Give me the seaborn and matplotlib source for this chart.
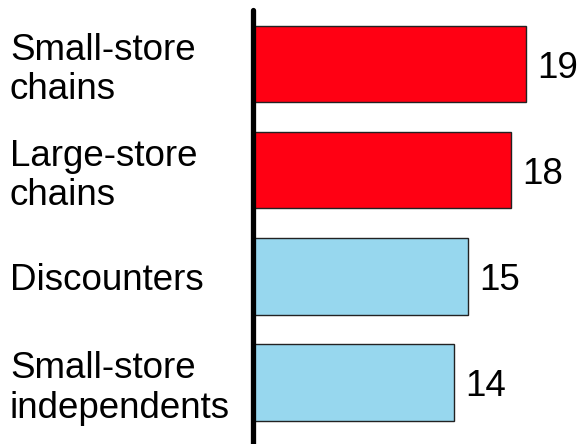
import matplotlib
matplotlib.use("Agg")
import matplotlib.pyplot as plt
import seaborn as sns
import pandas as pd

categories = ["Small-store\nchains", "Large-store\nchains", "Discounters", "Small-store\nindependents"]
values = [19, 18, 15, 14]
bar_colors = ["#FF0013", "#FF0013", "#97D7EE", "#97D7EE"]

sns.set_theme(style="white")
plt.rcParams["font.family"] = ["Liberation Sans", "DejaVu Sans"]

df = pd.DataFrame({"category": categories, "value": values})

W, H, DPI = 584, 444, 100
fig = plt.figure(figsize=(W / DPI, H / DPI), dpi=DPI)
ax = fig.add_axes([253 / W, 0, 1 - 253 / W, 434 / H])

sns.barplot(data=df, x="value", y="category", hue="category", palette=bar_colors,
            order=categories, hue_order=categories, legend=False, width=0.72,
            saturation=1, edgecolor="#222222", linewidth=1.0, ax=ax, orient="h")

ax.set_xlim(0, (W - 253) / 14.36)
ax.set_ylim(3.58, -0.51)
ax.set_xlabel("")
ax.set_ylabel("")
ax.set_xticks([])

for s in ["top", "right", "bottom"]:
    ax.spines[s].set_visible(False)
ax.spines["left"].set_linewidth(3.8)
ax.spines["left"].set_color("black")
ax.spines["left"].set_capstyle("round")

ax.tick_params(axis="y", length=0, pad=243 * 72 / DPI)
for lbl in ax.get_yticklabels():
    lbl.set_horizontalalignment("left")
    lbl.set_fontsize(26.5)
    lbl.set_color("black")
    lbl.set_linespacing(1.15)

for cont in ax.containers:
    anns = ax.bar_label(cont, labels=[f"{v:g}" for v in cont.datavalues], padding=8,
                        fontsize=26.5, color="black")
    for a in anns:
        a.set_verticalalignment("center_baseline")

fig.savefig("out.png", dpi=DPI)
